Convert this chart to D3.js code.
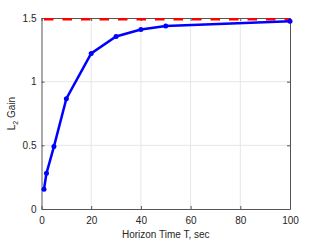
<!DOCTYPE html>
<html>
<head>
<meta charset="utf-8">
<script src="https://cdn.jsdelivr.net/npm/d3@7"></script>
<style>
  body { margin: 0; background: #fff; }
  text { font-family: "Liberation Sans", Arial, sans-serif; }
</style>
</head>
<body>
<div id="chart"></div>
<script>
// data
var horizon = [1, 2, 5, 10, 20, 30, 40, 50, 100];
var gain = [0.155, 0.28, 0.49, 0.866, 1.222, 1.355, 1.41, 1.437, 1.474];
var bound = 1.49;
var xTicks = [0, 20, 40, 60, 80, 100];
var yTicks = [0, 0.5, 1, 1.5];

var margin = { top: 18, right: 31, bottom: 32, left: 41.5 },
    width = 321 - margin.left - margin.right,
    height = 241 - margin.top - margin.bottom;

var svg = d3.select("#chart").append("svg")
    .attr("width", 321)
    .attr("height", 241)
    .append("g")
    .attr("transform", "translate(" + margin.left + "," + margin.top + ")");

var x = d3.scaleLinear().domain([0, 100]).range([0, width]);
var y = d3.scaleLinear().domain([0, 1.5]).range([height, 0]);

// grid
svg.append("g").selectAll("line").data(xTicks.slice(1, -1)).enter().append("line")
    .attr("x1", function (d) { return x(d); }).attr("x2", function (d) { return x(d); })
    .attr("y1", 0).attr("y2", height)
    .attr("stroke", "#e6e6e6").attr("stroke-width", 1);
svg.append("g").selectAll("line").data(yTicks.slice(1, -1)).enter().append("line")
    .attr("x1", 0).attr("x2", width)
    .attr("y1", function (d) { return y(d); }).attr("y2", function (d) { return y(d); })
    .attr("stroke", "#e6e6e6").attr("stroke-width", 1);

// axes with inward ticks
var xAxis = svg.append("g")
    .attr("transform", "translate(0," + height + ")")
    .call(d3.axisBottom(x).tickValues(xTicks).tickSizeInner(-3).tickSizeOuter(0).tickPadding(8));
var xTop = svg.append("g")
    .call(d3.axisTop(x).tickValues(xTicks).tickSizeInner(-3).tickSizeOuter(0).tickFormat(""));
var yAxis = svg.append("g")
    .call(d3.axisLeft(y).tickValues(yTicks).tickSizeInner(-3).tickSizeOuter(0).tickPadding(5)
        .tickFormat(function (d) { return d; }));
var yRight = svg.append("g")
    .attr("transform", "translate(" + width + ",0)")
    .call(d3.axisRight(y).tickValues(yTicks).tickSizeInner(-3).tickSizeOuter(0).tickFormat(""));

[xAxis, xTop, yAxis, yRight].forEach(function (a) {
    a.select(".domain").attr("stroke", "#555");
    a.selectAll(".tick line").attr("stroke", "#555");
    a.selectAll("text").attr("fill", "#262626").style("font-size", "10px");
});

// bound line
svg.append("line")
    .attr("x1", x(0)).attr("x2", x(100))
    .attr("y1", y(bound)).attr("y2", y(bound))
    .attr("stroke", "#ff0000").attr("stroke-width", 2.6)
    .attr("stroke-dasharray", "9.5,9").attr("stroke-dashoffset", -2.5);

// gain curve
var line = d3.line()
    .x(function (d, i) { return x(horizon[i]); })
    .y(function (d) { return y(d); });

svg.append("path")
    .datum(gain)
    .attr("d", line)
    .attr("fill", "none")
    .attr("stroke", "#0000ff")
    .attr("stroke-width", 2.5);

svg.selectAll(".pt").data(gain).enter().append("circle")
    .attr("class", "pt")
    .attr("cx", function (d, i) { return x(horizon[i]); })
    .attr("cy", function (d) { return y(d); })
    .attr("r", 2.5)
    .attr("fill", "#0000ff");

// labels
svg.append("text")
    .attr("x", width / 2).attr("y", height + 29)
    .attr("text-anchor", "middle")
    .attr("fill", "#262626")
    .style("font-size", "10px")
    .text("Horizon Time T, sec");

var yl = svg.append("text")
    .attr("transform", "translate(-27," + (height / 2) + ") rotate(-90)")
    .attr("text-anchor", "middle")
    .attr("fill", "#262626")
    .style("font-size", "10px");
yl.append("tspan").text("L");
yl.append("tspan").attr("dy", 3).style("font-size", "7px").text("2");
yl.append("tspan").attr("dy", -3).text(" Gain");
</script>
</body>
</html>
